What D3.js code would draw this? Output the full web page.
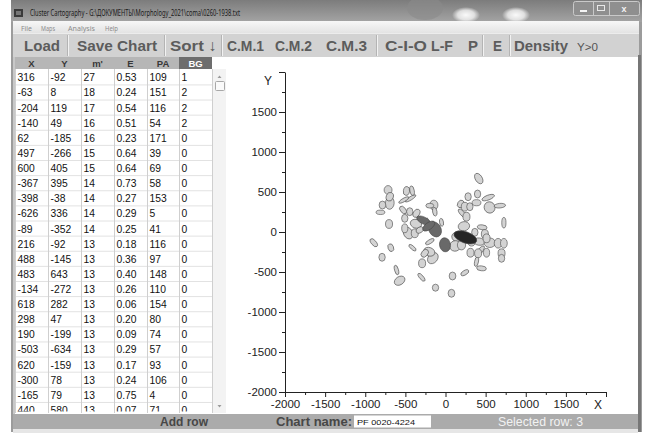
<!DOCTYPE html>
<html><head><meta charset="utf-8">
<script src="https://cdn.jsdelivr.net/npm/d3@7"></script>
<style>
html,body{margin:0;padding:0;background:#fff;overflow:hidden}
svg{display:block;font-family:"Liberation Sans",Arial,sans-serif}
</style></head><body>
<svg id="c" width="651" height="434"></svg>
<script>
// ---------- table data (as shown in the grid) ----------
const tblX  = [316,-63,-204,-140,62,497,600,-367,-398,-626,-89,216,488,483,-134,618,298,190,-503,620,-300,-165,440];
const tblY  = [-92,8,119,49,-185,-266,405,395,-38,336,-352,-92,-145,643,-272,282,47,-199,-634,-159,78,79,580];
const tblM  = [27,18,17,16,16,15,15,14,14,14,14,13,13,13,13,13,13,13,13,13,13,13,13];
const tblE  = ["0.53","0.24","0.54","0.51","0.23","0.64","0.64","0.73","0.27","0.29","0.25","0.18","0.36","0.40","0.26","0.06","0.20","0.09","0.29","0.17","0.24","0.75","0.07"];
const tblPA = [109,151,116,54,171,39,69,58,153,5,41,116,97,148,110,154,80,74,57,93,106,4,71];
const tblBG = [1,2,2,2,0,0,0,0,0,0,0,0,0,0,0,0,0,0,0,0,0,0,0];
// shade used on the map for the drawn table rows (0 light, 2 dark grey, 1 black)
const mapShade = [1,2,2,2,2,0,0,0,0,0,0,0,0,0,0,0,0,0,0,0,0,0];
// ---------- further objects visible on the map (below the visible rows) ----------
const extX  = [-647,-626,-717,-742,-418,-348,-451,350,468,455,259,309,372,746,-77,-127,-65,-460,-377,-293,276,330,19,-635,-439,796,525,434,-439,-314,-252,559,580,-127,-825,-613,-343,268,393,724,796,380,-190,767,-722,-542,-223,-231,-56,143,156,309,517,455,475,580,767];
const extY  = [500,416,312,221,488,491,375,416,450,341,325,291,291,304,312,304,229,250,229,209,209,166,96,75,146,91,34,-29,21,-41,0,-50,-104,-146,-159,-221,-221,-188,-146,-166,-166,-284,-291,-291,-341,-500,-416,-591,-721,-791,-575,-534,-479,-396,-291,-284,-354];
const extM  = [10,10,9,10,10,11,13,9,9,10,9,10,9,13,11,9,10,10,9,10,12,10,9,10,9,12,11,9,10,10,9,10,10,11,11,9,10,11,10,11,11,10,10,10,9,11,10,11,8,9,9,10,11,11,10,10,9];
const extE  = [0.1,0.2,0.15,0.5,0.3,0.55,0.7,0.2,0.2,0.3,0.2,0.2,0.2,0.6,0.15,0.4,0.5,0.4,0.2,0.3,0.6,0.2,0.5,0.2,0.2,0.6,0.5,0.2,0.3,0.2,0.3,0.2,0.2,0.6,0.5,0.3,0.6,0.15,0.2,0.2,0.3,0.2,0.3,0.2,0.2,0.6,0.2,0.6,0.1,0.15,0.15,0.5,0.5,0.6,0.2,0.3,0.2];
const extPA = [0,20,0,90,10,170,60,0,0,90,30,0,0,85,0,90,170,140,0,30,140,0,170,0,0,0,95,0,0,0,60,0,0,60,140,160,130,0,0,0,0,0,40,0,0,165,0,140,0,0,0,60,95,10,0,0,0];
// ---------- axis ticks ----------
const majorTicks = [-2000,-1500,-1000,-500,0,500,1000,1500,2000];
const minorTicks = [-1750,-1250,-750,-250,250,750,1250,1750];
const headers = ["X","Y","m'","E","PA","BG"];
const toolItems = [
  {t:"Load",x:24,w:36},{t:"Save Chart",x:77,w:80},{t:"Sort \u2193",x:170,w:47},
  {t:"C.M.1",x:227,w:37},{t:"C.M.2",x:275,w:37},{t:"C.M.3",x:326,w:41},
  {t:"C-I-O",x:385,w:42},{t:"L-F",x:431,w:22},{t:"P",x:468,w:10},{t:"E",x:493,w:9},{t:"Density",x:514,w:54}
];
const toolSeps = [68,165,222,377,483,510];
const menuItems = [{t:"File",x:21,w:11},{t:"Maps",x:41,w:14},{t:"Analysis",x:68,w:27},{t:"Help",x:105,w:13}];

const svg = d3.select("#c");
const defs = svg.append("defs");
const tb = defs.append("linearGradient").attr("id","tb").attr("x1",0).attr("y1",0).attr("x2",0).attr("y2",1);
tb.append("stop").attr("offset",0).attr("stop-color","#7c7c7c");
tb.append("stop").attr("offset",1).attr("stop-color","#a4a4a4");
const mb = defs.append("linearGradient").attr("id","mb").attr("x1",0).attr("y1",0).attr("x2",0).attr("y2",1);
mb.append("stop").attr("offset",0).attr("stop-color","#f7f7f7");
mb.append("stop").attr("offset",1).attr("stop-color","#e3e3e3");
const blob = defs.append("radialGradient").attr("id","blob");
blob.append("stop").attr("offset",0).attr("stop-color","#fff").attr("stop-opacity",0.95);
blob.append("stop").attr("offset",0.6).attr("stop-color","#fff").attr("stop-opacity",0.7);
blob.append("stop").attr("offset",1).attr("stop-color","#fff").attr("stop-opacity",0);
defs.append("clipPath").attr("id","tclip").append("rect").attr("x",15).attr("y",69).attr("width",197).attr("height",342.5);

// window frame
svg.append("rect").attr("x",11).attr("y",0).attr("width",631).attr("height",432).attr("fill","#9c9c9c");
svg.append("rect").attr("x",11).attr("y",0).attr("width",631).attr("height",22).attr("fill","url(#tb)");
svg.append("ellipse").attr("cx",466).attr("cy",15).attr("rx",14).attr("ry",8).attr("fill","url(#blob)");
svg.append("ellipse").attr("cx",516).attr("cy",15).attr("rx",14).attr("ry",8).attr("fill","url(#blob)");
svg.append("ellipse").attr("cx",425).attr("cy",8).attr("rx",18).attr("ry",12).attr("fill","#8a8a8a").attr("opacity",0.6);
// icon
svg.append("rect").attr("x",14).attr("y",9).attr("width",9).attr("height",8).attr("fill","#3a3a3a");
svg.append("rect").attr("x",16).attr("y",11).attr("width",5).attr("height",4).attr("fill","#777");
// title
svg.append("text").attr("x",30).attr("y",16).attr("font-family","Noto Sans, sans-serif").attr("font-size",8).attr("fill","#1a1a1a")
  .attr("textLength",210).attr("lengthAdjust","spacingAndGlyphs")
  .text("Cluster Cartography  -  G:\\ДОКУМЕНТЫ\\Morphology_2021\\coma\\0260-1938.txt");
// window buttons
const wb = svg.append("g");
wb.append("rect").attr("x",573.5).attr("y",1.5).attr("width",66).attr("height",14).attr("rx",2).attr("fill","#8f8f8f").attr("stroke","#c9c9c9");
wb.append("line").attr("x1",593.5).attr("x2",593.5).attr("y1",2).attr("y2",15).attr("stroke","#c9c9c9");
wb.append("line").attr("x1",609.5).attr("x2",609.5).attr("y1",2).attr("y2",15).attr("stroke","#c9c9c9");
wb.append("rect").attr("x",580).attr("y",10).attr("width",7).attr("height",2).attr("fill","#f4f4f4");
wb.append("rect").attr("x",597.5).attr("y",5.5).attr("width",7).attr("height",5).attr("fill","none").attr("stroke","#e8e8e8");
wb.append("text").attr("x",624).attr("y",12).attr("text-anchor","middle").attr("font-size",9).attr("font-weight","bold").attr("fill","#f4f4f4").text("x");
// menu bar
svg.append("rect").attr("x",13).attr("y",21).attr("width",626).attr("height",12).attr("fill","url(#mb)");
svg.selectAll("text.menu").data(menuItems).join("text").attr("class","menu")
  .attr("x",d=>d.x).attr("y",30.5).attr("font-family","Noto Sans, sans-serif").attr("font-size",7).attr("fill","#8c8c8c")
  .attr("textLength",d=>d.w).attr("lengthAdjust","spacingAndGlyphs").text(d=>d.t);
// toolbar
svg.append("rect").attr("x",13).attr("y",33).attr("width",626).attr("height",24).attr("fill","#d2d2d2");
svg.append("line").attr("x1",13).attr("x2",639).attr("y1",33.5).attr("y2",33.5).attr("stroke","#ececec");
svg.selectAll("line.sep").data(toolSeps).join("line").attr("class","sep")
  .attr("x1",d=>d+0.5).attr("x2",d=>d+0.5).attr("y1",35).attr("y2",56).attr("stroke","#f2f2f2");
svg.selectAll("line.sep2").data(toolSeps).join("line").attr("class","sep2")
  .attr("x1",d=>d-0.5).attr("x2",d=>d-0.5).attr("y1",35).attr("y2",56).attr("stroke","#b4b4b4");
svg.selectAll("text.tool").data(toolItems).join("text").attr("class","tool")
  .attr("x",d=>d.x).attr("y",51).attr("font-size",15.5).attr("font-weight","bold").attr("fill","#5c5c5c")
  .attr("textLength",d=>d.w).attr("lengthAdjust","spacingAndGlyphs").text(d=>d.t);
svg.append("text").attr("x",577).attr("y",51).attr("font-size",10).attr("fill","#555")
  .attr("textLength",21).attr("lengthAdjust","spacingAndGlyphs").text("Y>0");

// client areas
svg.append("rect").attr("x",13).attr("y",57).attr("width",625).attr("height",357).attr("fill","#fff");
svg.append("rect").attr("x",638).attr("y",55).attr("width",3).attr("height",377).attr("fill","#767676");
svg.append("rect").attr("x",13).attr("y",57).attr("width",2).attr("height",357).attr("fill","#c8c8c8");

// ---------- table ----------
const colL = [15,48,81,114,147,179,212];
const head = svg.append("g");
headers.forEach((h,i)=>{
  head.append("rect").attr("x",colL[i]).attr("y",57).attr("width",colL[i+1]-colL[i]).attr("height",12)
    .attr("fill", i===5 ? "#6d6d6d" : "#b6b6b6");
  head.append("text").attr("x",(colL[i]+colL[i+1])/2).attr("y",66.5).attr("text-anchor","middle")
    .attr("font-size",9.5).attr("font-weight","bold").attr("fill", i===5 ? "#fff" : "#383838").text(h);
});
const body = svg.append("g").attr("clip-path","url(#tclip)");
const rowH = 15.12, row0 = 69.8;
const rows = tblX.map((v,i)=>[v,tblY[i],tblM[i],tblE[i],tblPA[i],tblBG[i]]);
rows.forEach((r,i)=>{
  body.append("line").attr("x1",15).attr("x2",212).attr("y1",row0+rowH*(i+1)).attr("y2",row0+rowH*(i+1)).attr("stroke","#e2e2e2");
  r.forEach((v,j)=>{
    body.append("text").attr("x",colL[j]+2.5).attr("y",row0+rowH*i+11.5).attr("font-size",10.3).attr("fill","#111").text(v);
  });
});
colL.forEach(cx=>{
  svg.append("line").attr("x1",cx+0.5).attr("x2",cx+0.5).attr("y1",69).attr("y2",413).attr("stroke","#cfcfcf");
});
// scrollbar
svg.append("rect").attr("x",213).attr("y",69).attr("width",13).attr("height",344).attr("fill","#f3f3f3");
svg.append("path").attr("d","M217.5,78 L219.5,75.5 L221.5,78 Z").attr("fill","#9a9a9a");
svg.append("rect").attr("x",215.5).attr("y",81.5).attr("width",9).attr("height",9).attr("rx",1).attr("fill","#fafafa").attr("stroke","#a8a8a8");
svg.append("path").attr("d","M217.5,405 L219.5,407.5 L221.5,405 Z").attr("fill","#9a9a9a");

// bottom bar
svg.append("rect").attr("x",13).attr("y",414).attr("width",625).attr("height",15).attr("fill","#ababab");
svg.append("rect").attr("x",13).attr("y",429).attr("width",625).attr("height",4).attr("fill","#e6e6e6");
svg.append("text").attr("x",184).attr("y",426).attr("text-anchor","middle").attr("font-size",12.5).attr("font-weight","bold").attr("fill","#474747")
  .attr("textLength",48).attr("lengthAdjust","spacingAndGlyphs").text("Add row");
svg.append("text").attr("x",276).attr("y",426).attr("font-size",12.5).attr("font-weight","bold").attr("fill","#474747")
  .attr("textLength",76).attr("lengthAdjust","spacingAndGlyphs").text("Chart name:");
svg.append("rect").attr("x",354).attr("y",415.5).attr("width",77).attr("height",12).attr("fill","#fff");
svg.append("text").attr("x",357).attr("y",424.5).attr("font-size",7.5).attr("fill","#111")
  .attr("textLength",58).attr("lengthAdjust","spacingAndGlyphs").text("PF 0020-4224");
svg.append("text").attr("x",498).attr("y",426).attr("font-size",12).attr("fill","#f2f2f2")
  .attr("textLength",85).attr("lengthAdjust","spacingAndGlyphs").text("Selected row: 3");

// ---------- chart ----------
const x = d3.scaleLinear().domain([-2000,2000]).range([285,606]);
const y = d3.scaleLinear().domain([-2000,2000]).range([392,72]);
const OFFX = -5.5, OFFY = -2;   // drawing offset of the map objects
const SIZE = 11;                 // data units of major axis per m'

const g = svg.append("g");
g.append("g").attr("transform","translate(285,0)")
  .call(d3.axisLeft(y).tickValues(majorTicks).tickSize(6).tickPadding(2).tickSizeOuter(0).tickFormat(d=>d===2000?"":d));
const yMin = g.append("g").attr("transform","translate(285,0)")
  .call(d3.axisLeft(y).tickValues(minorTicks).tickSize(3).tickFormat(""));
yMin.select(".domain").remove();
g.append("g").attr("transform","translate(0,392)")
  .call(d3.axisBottom(x).tickValues(majorTicks).tickSize(5).tickPadding(3).tickSizeOuter(0).tickFormat(d=>d===2000?"":d));
const xMin = g.append("g").attr("transform","translate(0,392)")
  .call(d3.axisBottom(x).tickValues(minorTicks).tickSize(3).tickFormat(""));
xMin.select(".domain").remove();
g.selectAll(".tick text").attr("font-size",11.5).attr("font-family","Liberation Sans, Arial, sans-serif").attr("fill","#222");
g.selectAll(".tick line, .domain").attr("stroke","#222");
g.append("text").attr("x",268).attr("y",85).attr("text-anchor","middle").attr("font-size",12).attr("fill","#222").text("Y");
g.append("text").attr("x",598).attr("y",409).attr("text-anchor","middle").attr("font-size",12).attr("fill","#222").text("X");

// objects
const objs = [];
for (let i=0;i<22;i++) objs.push({X:tblX[i],Y:tblY[i],m:tblM[i],e:+tblE[i],pa:tblPA[i],s:mapShade[i]});
extX.forEach((v,i)=>objs.push({X:v,Y:extY[i],m:extM[i],e:extE[i],pa:extPA[i],s:0}));
const order = {0:0,2:1,1:2};
objs.sort((a,b)=>order[a.s]-order[b.s]);
const fill = {0:"#d3d3d3",2:"#696969",1:"#262626"};
g.append("g").selectAll("ellipse").data(objs).join("ellipse")
  .attr("transform",d=>`translate(${x(d.X)+OFFX},${y(d.Y)+OFFY}) rotate(${d.pa-90})`)
  .attr("rx",d=>(x(d.m*SIZE/2)-x(0)))
  .attr("ry",d=>(x(d.m*SIZE/2)-x(0))*(1-d.e))
  .attr("fill",d=>fill[d.s]).attr("stroke","#474747").attr("stroke-width",0.6);
</script></body></html>
